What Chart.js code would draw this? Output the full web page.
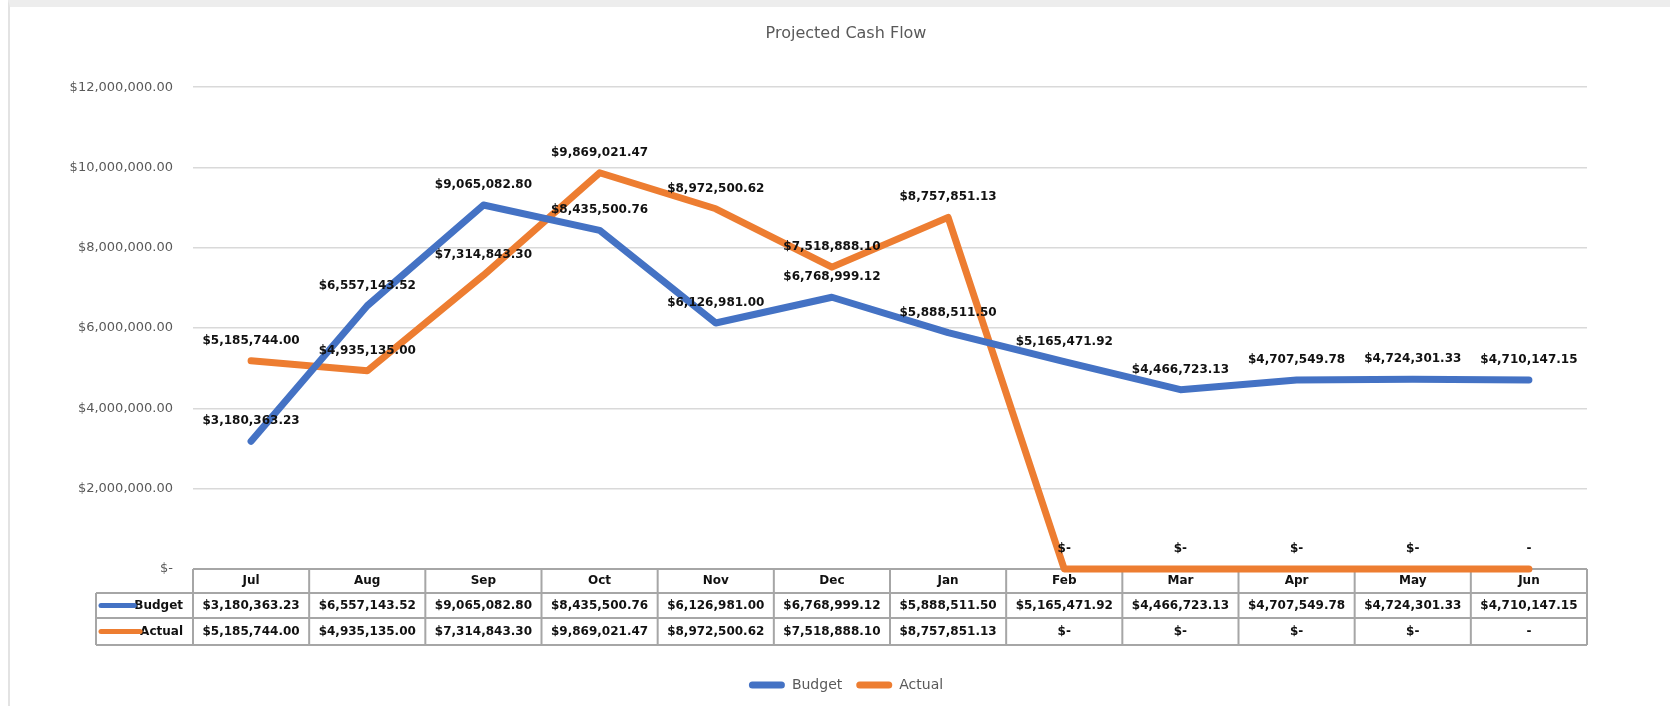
<!DOCTYPE html>
<html>
<head>
<meta charset="utf-8">
<title>Projected Cash Flow</title>
<script src="https://cdn.jsdelivr.net/npm/chart.js@4.4.1/dist/chart.umd.min.js"></script>
<style>
  html, body { margin: 0; padding: 0; background: #fff; }
  #wrap { position: relative; width: 1670px; height: 706px; overflow: hidden; }
  #frame { position: absolute; left: 8px; top: 0; right: 0; bottom: 0; border-top: 7px solid #ededed; border-left: 2px solid #e3e3e3; }
  #wrap canvas { position: absolute; left: 0; top: 0; }
</style>
</head>
<body>
<div id="wrap">
  <div id="frame"></div>
  <canvas id="cashFlow" width="1670" height="706"></canvas>
</div>
<script>
const months = ['Jul', 'Aug', 'Sep', 'Oct', 'Nov', 'Dec', 'Jan', 'Feb', 'Mar', 'Apr', 'May', 'Jun'];
const budget = [3180363.23, 6557143.52, 9065082.80, 8435500.76, 6126981.00, 6768999.12,
                5888511.50, 5165471.92, 4466723.13, 4707549.78, 4724301.33, 4710147.15];
const actual = [5185744.00, 4935135.00, 7314843.30, 9869021.47, 8972500.62, 7518888.10,
                8757851.13, 0, 0, 0, 0, 0];
// months where the actual figure is shown as a bare dash
const actualDashOnly = ['Jun'];
const yTicks = [0, 2000000, 4000000, 6000000, 8000000, 10000000, 12000000];

const BLUE = '#4472C4';
const ORANGE = '#ED7D31';
const FONT = '"DejaVu Sans", "Liberation Sans", sans-serif';

Chart.defaults.font.family = FONT;

const money = (v) => {
  if (v === 0) return '$-';
  return '$' + v.toLocaleString('en-US', { minimumFractionDigits: 2, maximumFractionDigits: 2 });
};

const cellText = (label, i, v) => {
  if (label === 'Actual' && actualDashOnly.includes(months[i])) return '-';
  return money(v);
};

// title and legend are centred a bit left of the plot, like the excel original
const shiftBlocks = {
  id: 'shiftBlocks',
  afterLayout(chart) {
    if (chart.titleBlock) chart.titleBlock.left = 105;
    if (chart.legend) chart.legend.left = 105;
  }
};

// values written just above each point
const pointLabels = {
  id: 'pointLabels',
  afterDatasetsDraw(chart) {
    const ctx = chart.ctx;
    ctx.save();
    ctx.font = 'bold 12px ' + FONT;
    ctx.fillStyle = '#111';
    ctx.textAlign = 'center';
    ctx.textBaseline = 'middle';
    chart.data.datasets.forEach((ds, di) => {
      chart.getDatasetMeta(di).data.forEach((pt, i) => {
        ctx.fillText(cellText(ds.label, i, ds.data[i]), pt.x, pt.y - 20);
      });
    });
    ctx.restore();
  }
};

// excel style data table under the plot
const dataTable = {
  id: 'dataTable',
  beforeDatasetsDraw(chart) {
    const { ctx, chartArea } = chart;
    const left = chartArea.left, right = chartArea.right;
    const top = chartArea.bottom;
    const keyLeft = 96;
    const r1 = top + 24, r2 = top + 49, bottom = top + 76;
    const colW = (right - left) / months.length;

    ctx.save();
    ctx.strokeStyle = '#a6a6a6';
    ctx.lineWidth = 2;
    ctx.beginPath();
    ctx.moveTo(left, top); ctx.lineTo(right, top);
    ctx.moveTo(keyLeft, r1); ctx.lineTo(right, r1);
    ctx.moveTo(keyLeft, r2); ctx.lineTo(right, r2);
    ctx.moveTo(keyLeft, bottom); ctx.lineTo(right, bottom);
    ctx.moveTo(keyLeft, r1); ctx.lineTo(keyLeft, bottom);
    for (let k = 0; k <= months.length; k++) {
      const x = left + k * colW;
      ctx.moveTo(x, top); ctx.lineTo(x, bottom);
    }
    ctx.stroke();

    ctx.font = 'bold 12px ' + FONT;
    ctx.fillStyle = '#111';
    ctx.textBaseline = 'middle';
    const rows = [r1 + 12.5, r2 + 13.5];
    chart.data.datasets.forEach((ds, di) => {
      const y = rows[di];
      ctx.textAlign = 'center';
      ds.data.forEach((v, i) => {
        ctx.fillText(cellText(ds.label, i, v), left + (i + 0.5) * colW, y);
      });
      ctx.textAlign = 'right';
      const tx = left - 10;
      ctx.fillText(ds.label, tx, y);
      const w = ctx.measureText(ds.label).width;
      ctx.strokeStyle = ds.borderColor;
      ctx.lineWidth = 5;
      ctx.lineCap = 'round';
      ctx.beginPath();
      ctx.moveTo(keyLeft + 5, y);
      ctx.lineTo(tx - w, y);
      ctx.stroke();
    });
    ctx.restore();
  }
};

const ctx = document.getElementById('cashFlow').getContext('2d');
new Chart(ctx, {
  type: 'line',
  data: {
    labels: months,
    datasets: [
      {
        label: 'Budget',
        data: budget,
        borderColor: BLUE,
        backgroundColor: BLUE,
        borderWidth: 7,
        borderCapStyle: 'round',
        borderJoinStyle: 'round',
        pointRadius: 0,
        tension: 0,
        clip: false
      },
      {
        label: 'Actual',
        data: actual,
        borderColor: ORANGE,
        backgroundColor: ORANGE,
        borderWidth: 7,
        borderCapStyle: 'round',
        borderJoinStyle: 'round',
        pointRadius: 0,
        tension: 0,
        clip: false
      }
    ]
  },
  options: {
    responsive: false,
    animation: false,
    layout: { padding: { left: 0, right: 83, top: 0, bottom: 4 } },
    plugins: {
      title: {
        display: true,
        text: 'Projected Cash Flow',
        color: '#595959',
        font: { size: 16, weight: 'normal' },
        padding: { top: 24, bottom: 44 }
      },
      legend: {
        position: 'bottom',
        labels: {
          color: '#595959',
          font: { size: 14 },
          boxWidth: 36,
          boxHeight: 7,
          padding: 14,
          useBorderRadius: true,
          borderRadius: 3.5,
          generateLabels(chart) {
            return Chart.defaults.plugins.legend.labels.generateLabels(chart)
              .map((l) => ({ ...l, lineWidth: 0, fillStyle: l.strokeStyle }));
          }
        }
      },
      tooltip: { enabled: false }
    },
    scales: {
      x: {
        offset: true,
        grid: { display: false, drawTicks: false },
        border: { display: false },
        ticks: { color: '#111', font: { size: 12, weight: 'bold' }, padding: 5, maxRotation: 0, autoSkip: false },
        afterFit(scale) { scale.height = 95; }
      },
      y: {
        min: 0,
        max: 12000000,
        border: { display: false },
        grid: {
          drawTicks: false,
          lineWidth: 1.5,
          color: (c) => (c.tick && c.tick.value === 0 ? 'rgba(0,0,0,0)' : '#d9d9d9')
        },
        ticks: {
          color: '#595959',
          font: { size: 13 },
          padding: 20,
          callback: (v) => money(v)
        },
        afterBuildTicks(scale) { scale.ticks = yTicks.map((v) => ({ value: v })); },
        afterFit(scale) { scale.width = 193; }
      }
    }
  },
  plugins: [shiftBlocks, dataTable, pointLabels]
});
</script>
</body>
</html>
